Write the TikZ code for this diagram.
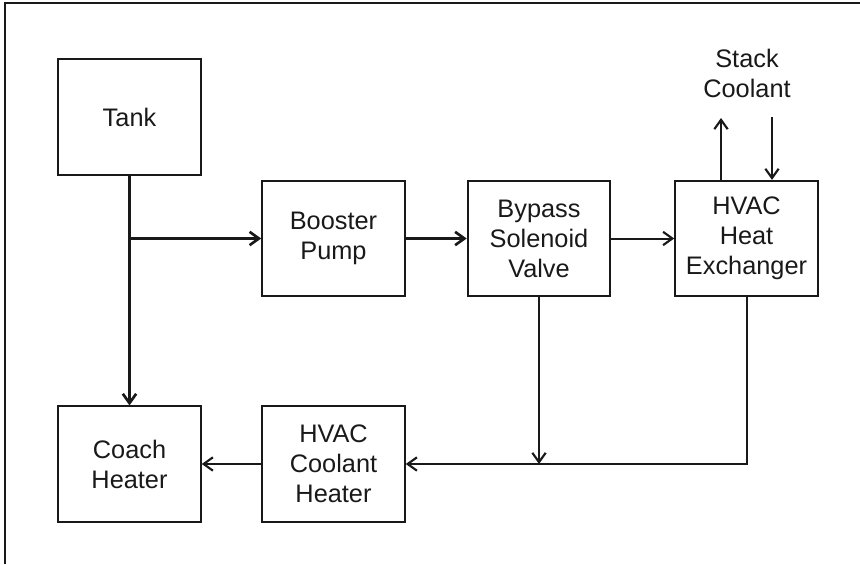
\documentclass[tikz,border=0pt]{standalone}
\usepackage{fontspec}
\setmainfont{Liberation Sans}
\usetikzlibrary{arrows.meta}
\begin{document}
\begin{tikzpicture}[x=0.75pt,y=-0.75pt,
  blk/.style={draw=black!90, line width=1.4pt, minimum width=107pt, minimum height=86.5pt,
    inner sep=0pt, align=center, font=\fontsize{19}{22.5}\selectfont, text=black!90},
  lbl/.style={inner sep=0pt, align=center, font=\fontsize{19}{22.5}\selectfont, text=black!90},
  thk/.style={draw=black!90, line width=2.1pt, -{Straight Barb[length=7pt,width=10pt,line width=2pt]}},
  thn/.style={draw=black!90, line width=1.5pt, -{Straight Barb[length=7pt,width=10pt,line width=1.6pt]}},
  ln/.style={draw=black!90, line width=1.5pt}]
\useasboundingbox (0,0) rectangle (860,564);
\draw[ln] (5,564) -- (5,3) -- (860,3);
\node[blk] (tank) at (129.5,117) {Tank};
\node[blk] (bp) at (333.5,238.5) {Booster\\Pump};
\node[blk] (bv) at (539,238.5) {Bypass\\Solenoid\\Valve};
\node[blk] (hx) at (746.5,238.5) {HVAC\\Heat\\Exchanger};
\node[blk] (ch) at (129.5,464) {Coach\\Heater};
\node[blk] (hc) at (333.5,464) {HVAC\\Coolant\\Heater};
\node[lbl] (sc) at (747,73) {Stack\\Coolant};
\coordinate (br) at (129.5,238.5);
\coordinate (j) at (539,464);
\coordinate (hxc) at (746.5,464);
\coordinate (up) at (721,118);
\coordinate (dn) at (772,117);
\draw[thk] (tank.south) -- (ch.north);
\draw[thk] (br) -- (bp.west);
\draw[thk] (bp.east) -- (bv.west);
\draw[thn] (bv.east) -- (hx.west);
\draw[thn] (bv.south) -- (j);
\draw[thn] (hx.south) -- (hxc) -- (hc.east);
\draw[thn] (hc.west) -- (ch.east);
\draw[thn] (hx.north -| up) -- (up);
\draw[thn] (dn) -- (hx.north -| dn);
\end{tikzpicture}
\end{document}
